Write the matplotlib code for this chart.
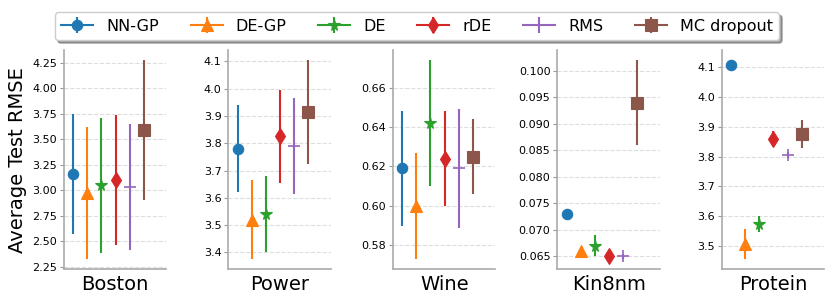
import numpy as np
import matplotlib
matplotlib.use("Agg")
import matplotlib.pyplot as plt

# --- DATA ---------------------------------------------------------------------
datasets = ["Boston", "Power", "Wine", "Kin8nm", "Protein"]
methods  = ["NN-GP", "DE-GP", "DE", "rDE", "RMS", "MC dropout"]

boston_mean  = [3.16, 2.97, 3.05, 3.10, 3.03, 3.59]
boston_err   = [0.59, 0.645, 0.66, 0.635, 0.62, 0.685]
power_mean   = [3.78, 3.52, 3.54, 3.825, 3.79, 3.915]
power_err    = [0.16, 0.145, 0.14, 0.17, 0.175, 0.19]
wine_mean    = [0.619, 0.600, 0.642, 0.624, 0.619, 0.625]
wine_err     = [0.029, 0.027, 0.032, 0.024, 0.030, 0.019]
kin8nm_mean  = [0.073, 0.066, 0.067, 0.065, 0.065, 0.094]
kin8nm_err   = [0.0005, 0.0005, 0.002, 0.0005, 0.0005, 0.008]
protein_mean = [4.11, 3.505, 3.573, 3.86, 3.807, 3.875]
protein_err  = [0.015, 0.05, 0.028, 0.025, 0.01, 0.047]

means = [boston_mean, power_mean, wine_mean, kin8nm_mean, protein_mean]
errs  = [boston_err, power_err, wine_err, kin8nm_err, protein_err]

# --- STYLE --------------------------------------------------------------------
colors  = ["#1f77b4", "#ff7f0e", "#2ca02c", "#d62728", "#9467bd", "#8c564b"]
markers = ["o", "^", "*", "d", "+", "s"]
msizes  = [7.5, 8, 8.5, 8, 9, 8]

fig, axes = plt.subplots(1, 5, figsize=(8.31, 3.0), dpi=100)
fig.subplots_adjust(left=0.077, right=0.992, bottom=0.103, top=0.833, wspace=0.605)

for ax, name, m, e in zip(axes, datasets, means, errs):
    for i in range(len(methods)):
        # "-" linestyle only shows in the legend handle (single points)
        ax.errorbar(i, m[i], yerr=e[i], fmt=markers[i] + "-", color=colors[i],
                    markersize=msizes[i], linewidth=1.5, elinewidth=1.5, capsize=0,
                    markeredgewidth=1.2 if markers[i] == "+" else 0.8,
                    label=methods[i])
    ax.set_xlim(-0.65, 6.6)
    ax.set_xticks([])
    ax.set_xlabel(name, fontsize=14, labelpad=4)
    ax.tick_params(axis="y", labelsize=8, length=3, color="#999999", pad=2)
    ax.grid(axis="y", linestyle="--", color="#dddddd", linewidth=0.8)
    ax.set_axisbelow(True)
    for side in ["top", "right"]:
        ax.spines[side].set_visible(False)
    for side in ["left", "bottom"]:
        ax.spines[side].set_color("#aaaaaa")
        ax.spines[side].set_linewidth(1.2)

axes[0].set_ylabel("Average Test RMSE", fontsize=14)

handles, labels = axes[0].get_legend_handles_labels()
fig.legend(handles, labels, loc="upper center", bbox_to_anchor=(0.502, 0.985),
           ncol=6, fontsize=11.5, shadow=True, frameon=True, fancybox=True)

plt.savefig("out.png", dpi=100)
